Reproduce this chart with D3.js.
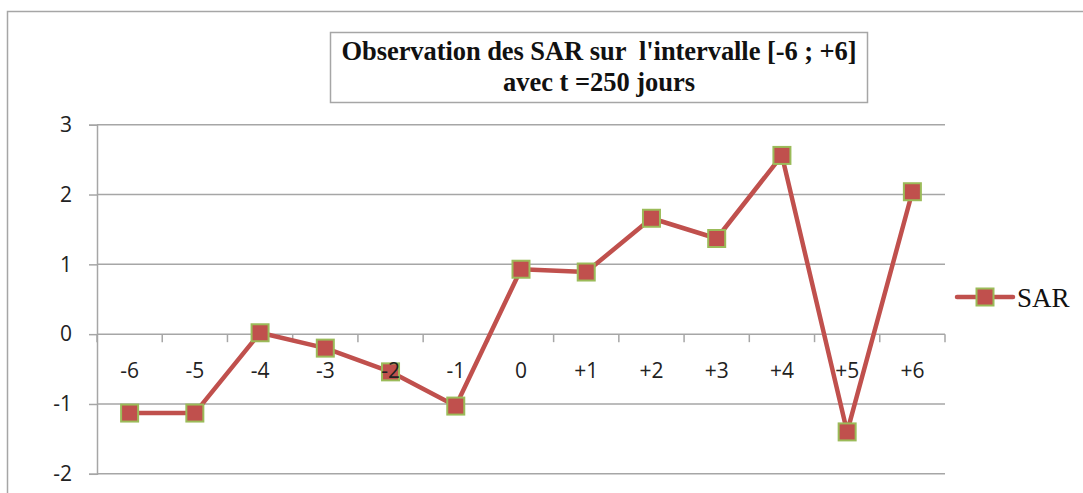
<!DOCTYPE html>
<html>
<head>
<meta charset="utf-8">
<script src="https://cdn.jsdelivr.net/npm/d3@7"></script>
<style>
  html, body { margin: 0; padding: 0; background: #fff; }
  svg { display: block; }
</style>
</head>
<body>
<svg id="chart" width="1083" height="493"></svg>
<script>
const categories = ["-6", "-5", "-4", "-3", "-2", "-1", "0", "+1", "+2", "+3", "+4", "+5", "+6"];
const sarValues = [-1.13, -1.13, 0.02, -0.20, -0.54, -1.03, 0.93, 0.89, 1.66, 1.37, 2.56, -1.40, 2.04];
const yTicks = [-2, -1, 0, 1, 2, 3];
const yTickLabels = ["-2", "-1", "0", "1", "2", "3"];
const titleLines = ["Observation des SAR sur  l'intervalle [-6 ; +6]", "avec t =250 jours"];
const seriesName = "SAR";

const svg = d3.select("#chart");
const gridColor = "#a6a6a6";
const lineColor = "#c0504d";
const markerStroke = "#9bbb59";
const labelFont = "'Open Sans', 'DejaVu Sans', sans-serif";
const serifFont = "'Liberation Serif', 'Times New Roman', serif";

// outer chart border (only top and left visible in frame)
svg.append("rect")
  .attr("x", 7.5).attr("y", 11.5)
  .attr("width", 1200).attr("height", 600)
  .attr("fill", "none").attr("stroke", gridColor).attr("stroke-width", 1.5);

const plot = { left: 97, right: 945, top: 124.7, bottom: 473.8 };

const x = d3.scaleBand().domain(categories).range([plot.left, plot.right]).padding(0);
const y = d3.scaleLinear().domain([-2, 3]).range([plot.bottom, plot.top]);

// gridlines
svg.append("g").selectAll("line").data(yTicks).join("line")
  .attr("x1", plot.left).attr("x2", plot.right)
  .attr("y1", d => y(d)).attr("y2", d => y(d))
  .attr("stroke", gridColor).attr("stroke-width", 1.5);

// y axis
const yAxis = svg.append("g")
  .attr("transform", `translate(${plot.left},0)`)
  .call(d3.axisLeft(y).tickValues(yTicks).tickSize(8).tickPadding(17)
    .tickFormat((d, i) => yTickLabels[i]));
yAxis.select(".domain").attr("stroke", gridColor).attr("stroke-width", 1.5);
yAxis.selectAll(".tick line").attr("stroke", gridColor).attr("stroke-width", 1.5);
yAxis.selectAll(".tick text")
  .attr("font-family", labelFont).attr("font-size", 21).attr("fill", "#222");

// category boundary tick marks on the zero line
const bounds = d3.range(categories.length + 1).map(i => plot.left + i * x.bandwidth());
svg.append("g").selectAll("line").data(bounds).join("line")
  .attr("x1", d => d).attr("x2", d => d)
  .attr("y1", y(0)).attr("y2", y(0) + 8)
  .attr("stroke", gridColor).attr("stroke-width", 1.5);

// series line
const pts = categories.map((c, i) => ({ c, v: sarValues[i] }));
svg.append("path")
  .datum(pts)
  .attr("fill", "none")
  .attr("stroke", lineColor)
  .attr("stroke-width", 4.5)
  .attr("stroke-linejoin", "round")
  .attr("d", d3.line().x(d => x(d.c) + x.bandwidth() / 2).y(d => y(d.v)));

// markers
const ms = 17;
svg.append("g").selectAll("rect").data(pts).join("rect")
  .attr("x", d => x(d.c) + x.bandwidth() / 2 - ms / 2)
  .attr("y", d => y(d.v) - ms / 2)
  .attr("width", ms).attr("height", ms)
  .attr("fill", lineColor).attr("stroke", markerStroke).attr("stroke-width", 2);

// x axis labels (drawn on top of the series)
const xAxis = svg.append("g")
  .attr("transform", `translate(0,${y(0)})`)
  .call(d3.axisBottom(x).tickSize(0).tickPadding(29));
xAxis.select(".domain").remove();
xAxis.selectAll(".tick text")
  .attr("font-family", labelFont).attr("font-size", 21).attr("fill", "#222");

// title box
const tb = { x: 330.5, y: 32.5, w: 537, h: 70 };
const titleWidths = [515, 192];
svg.append("rect")
  .attr("x", tb.x).attr("y", tb.y).attr("width", tb.w).attr("height", tb.h)
  .attr("fill", "#fff").attr("stroke", gridColor).attr("stroke-width", 1.5);
svg.append("g").selectAll("text").data(titleLines).join("text")
  .attr("x", tb.x + tb.w / 2)
  .attr("y", (d, i) => 60 + i * 31)
  .attr("text-anchor", "middle")
  .attr("font-family", serifFont)
  .attr("font-weight", "bold")
  .attr("font-size", 26.5)
  .attr("fill", "#111")
  .attr("textLength", (d, i) => titleWidths[i])
  .attr("lengthAdjust", "spacing")
  .style("white-space", "pre")
  .text(d => d);

// legend
const lg = svg.append("g").attr("transform", "translate(957,297)");
lg.append("line").attr("x1", 0).attr("x2", 56).attr("y1", 0).attr("y2", 0)
  .attr("stroke", lineColor).attr("stroke-width", 4.5).attr("stroke-linecap", "round");
lg.append("rect").attr("x", 28 - ms / 2).attr("y", -ms / 2).attr("width", ms).attr("height", ms)
  .attr("fill", lineColor).attr("stroke", markerStroke).attr("stroke-width", 2);
lg.append("text").attr("x", 60).attr("y", 10)
  .attr("font-family", serifFont)
  .attr("font-size", 27).attr("fill", "#111")
  .text(seriesName);
</script>
</body>
</html>
